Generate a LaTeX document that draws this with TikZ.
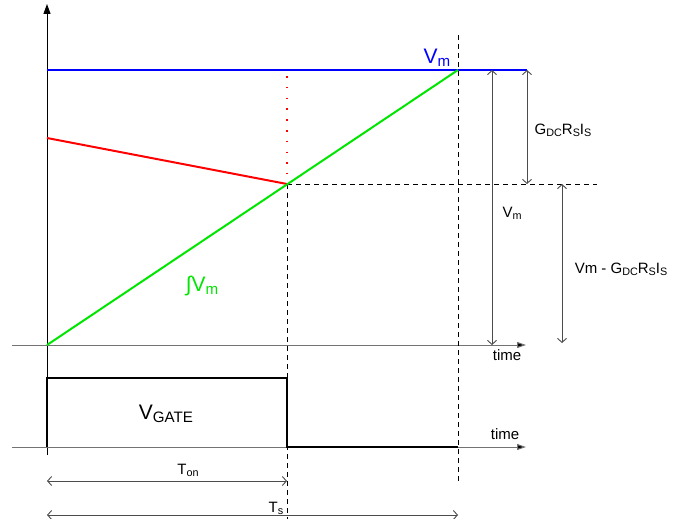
\documentclass[tikz,border=0pt]{standalone}
\usepackage{fontspec}
\setmainfont{Liberation Sans}
\usepackage{graphicx}
\usetikzlibrary{arrows.meta}
\newcommand\lsub[1]{\raisebox{-0.25ex}{\scalebox{0.72}{#1}}}
\definecolor{vblue}{RGB}{0,0,255}
\definecolor{vgreen}{RGB}{0,230,0}
\definecolor{vred}{RGB}{255,0,0}
\begin{document}
\begin{tikzpicture}[x=1pt,y=-1pt,
  axis/.style={line width=1pt,black!55,-{Triangle[length=9pt,width=6pt,fill=black]}},
  yaxis/.style={line width=1pt,black,-{Triangle[length=10pt,width=7pt]}},
  dimarrow/.style={line width=0.9pt,black!70,{Straight Barb[length=4pt,width=9pt]}-{Straight Barb[length=4pt,width=9pt]}},
  guide/.style={line width=0.9pt,black,dash pattern=on 5pt off 4pt},
  sig/.style={line width=2pt},
  lbl/.style={inner sep=0pt,font=\fontsize{15}{17}\selectfont},
  big/.style={inner sep=0pt,font=\fontsize{21}{24}\selectfont}]
\useasboundingbox (0,0) rectangle (683,519);
% coordinates
\coordinate (O) at (47,345);
\coordinate (Ytop) at (47,4);
\coordinate (Ybot) at (47,455);
\coordinate (Tl) at (12,345);
\coordinate (Tr) at (526,345);
\coordinate (Bl) at (12,447);
\coordinate (Br) at (526,447);
\coordinate (Vm0) at (47,70);
\coordinate (Vm1) at (527,70);
\coordinate (Peak) at (458,70);
\coordinate (Cross) at (287,184);
\coordinate (R0) at (47,138);
\coordinate (Dh) at (597,184);
\coordinate (Ds0) at (458,35);
\coordinate (Ds1) at (458,482);
\coordinate (Dc1) at (287,519);
\coordinate (Dot0) at (287,76);
\coordinate (Dot1) at (287,174);
\coordinate (P0) at (47,447);
\coordinate (P1) at (47,378);
\coordinate (P2) at (287,378);
\coordinate (P3) at (287,447);
\coordinate (P4) at (458,447);
\coordinate (A1t) at (492,70);
\coordinate (A1b) at (492,345);
\coordinate (A2t) at (527,70);
\coordinate (A2b) at (527,184);
\coordinate (A3t) at (562,184);
\coordinate (A3b) at (562,343);
\coordinate (Ton0) at (47,481);
\coordinate (Ton1) at (287,481);
\coordinate (Ts0) at (47,515);
\coordinate (Ts1) at (458,515);
% axes
\draw[line width=1pt] (Ybot) -- (O);
\draw[yaxis] (O) -- (Ytop);
\draw[axis] (Tl) -- (Tr);
\draw[axis] (Bl) -- (Br);
% guides
\draw[guide] (Ds0) -- (Ds1);
\draw[guide] (Cross) -- (Dh);
\draw[guide] (Cross) -- (Dc1);
\draw[vred,line width=1.6pt,dash pattern=on 1.6pt off 9.2pt] (Dot0) -- (Dot1);
% signals
\draw[sig,vblue] (Vm0) -- (Vm1);
\draw[sig,vred] (R0) -- (Cross);
\draw[sig,vgreen] (O) -- (Peak);
\draw[sig,black,line join=miter] (P0) -- (P1) -- (P2) -- (P3) -- (P4);
% dimension arrows
\draw[dimarrow] (A1t) -- (A1b);
\draw[dimarrow] (A2t) -- (A2b);
\draw[dimarrow] (A3t) -- (A3b);
\draw[dimarrow] (Ton0) -- (Ton1);
\draw[dimarrow] (Ts0) -- (Ts1);
% labels
\node[big,vblue] (lvm) at (437,58) {V\lsub{m}};
\node[big,vgreen] (lint) at (202,286) {∫V\lsub{m}};
\node[big] (lgate) at (166,414) {V\lsub{GATE}};
\node[lbl] (lg) at (563,130) {G\lsub{DC}R\lsub{S}I\lsub{S}};
\node[lbl] (lv) at (512,213) {V\lsub{m}};
\node[lbl] (lvg) at (621,269) {Vm - G\lsub{DC}R\lsub{S}I\lsub{S}};
\node[lbl] (lt1) at (507,355) {time};
\node[lbl] (lt2) at (505,434) {time};
\node[lbl] (lton) at (188,470) {T\lsub{on}};
\node[lbl] (lts) at (276,508) {T\lsub{s}};
\end{tikzpicture}
\end{document}
